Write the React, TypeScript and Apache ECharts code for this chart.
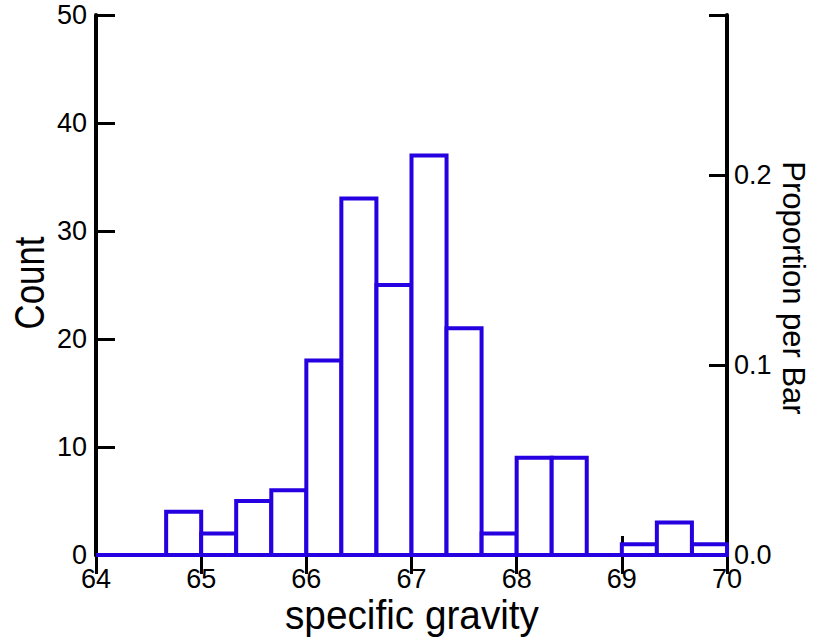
import React, { useEffect, useRef } from "react";
import * as echarts from "echarts";

const binLower = [
  64, 64.333, 64.667, 65, 65.333, 65.667, 66, 66.333, 66.667, 67, 67.333,
  67.667, 68, 68.333, 68.667, 69, 69.333, 69.667,
];
const binWidth = 1 / 3;
const counts = [0, 0, 4, 2, 5, 6, 18, 33, 25, 37, 21, 2, 9, 9, 0, 1, 3, 1];
const xTicks = [64, 65, 66, 67, 68, 69, 70];
const countMax = 50;
const xTitle = "specific gravity";
const yTitle = "Count";
const y2Title = "Proportion per Bar";

const FONT = "Liberation Sans, Arial, sans-serif";
const BLUE = "#2600E0";

export default function App() {
  const ref = useRef<HTMLDivElement>(null);
  useEffect(() => {
    if (!ref.current) return;
    const chart = echarts.init(ref.current, null, { renderer: "svg" });
    const total = counts.reduce((a, b) => a + b, 0);
    const data = binLower.map((lo, i) => [lo, lo + binWidth, counts[i]]);
    const axisLineStyle = { color: "#000", width: 4 };
    const tickStyle = { color: "#000", width: 3 };
    chart.setOption({
      animation: false,
      backgroundColor: "#fff",
      grid: { left: 96, right: 96, top: 15, bottom: 86, containLabel: false },
      xAxis: [
        {
          type: "value",
          min: xTicks[0],
          max: xTicks[xTicks.length - 1],
          interval: 1,
          position: "bottom",
          axisLine: { show: true, lineStyle: axisLineStyle },
          axisTick: { show: true, inside: true, length: 19, lineStyle: tickStyle },
          axisLabel: { color: "#000", fontSize: 27, fontFamily: FONT, margin: 10 },
          splitLine: { show: false },
        },
        {
          type: "value",
          min: xTicks[0],
          max: xTicks[xTicks.length - 1],
          interval: 1,
          position: "top",
          axisLine: { show: true, lineStyle: axisLineStyle },
          axisTick: { show: true, inside: true, length: 19, lineStyle: tickStyle },
          axisLabel: { show: false },
          splitLine: { show: false },
        },
      ],
      yAxis: [
        {
          type: "value",
          min: 0,
          max: countMax,
          interval: 10,
          position: "left",
          axisLine: { show: true, lineStyle: axisLineStyle },
          axisTick: { show: true, inside: true, length: 19, lineStyle: tickStyle },
          axisLabel: { color: "#000", fontSize: 27, fontFamily: FONT, margin: 9 },
          splitLine: { show: false },
        },
        {
          type: "value",
          min: 0,
          max: countMax / total,
          interval: 0.1,
          position: "right",
          axisLine: { show: true, lineStyle: axisLineStyle },
          axisTick: { show: true, inside: true, length: 18, lineStyle: tickStyle },
          axisLabel: {
            color: "#000",
            fontSize: 27,
            fontFamily: FONT,
            margin: 7,
            formatter: (v: number) =>
              Math.abs(v * 10 - Math.round(v * 10)) < 1e-6 ? v.toFixed(1) : "",
          },
          splitLine: { show: false },
        },
      ],
      series: [
        {
          type: "custom",
          xAxisIndex: 0,
          yAxisIndex: 0,
          clip: false,
          data,
          encode: { x: [0, 1], y: 2 },
          renderItem: (params: any, api: any) => {
            const p0 = api.coord([api.value(0), api.value(2)]);
            const p1 = api.coord([api.value(1), 0]);
            return {
              type: "rect",
              shape: { x: p0[0], y: p0[1], width: p1[0] - p0[0], height: p1[1] - p0[1] },
              style: { fill: "#fff", stroke: BLUE, lineWidth: 4 },
            };
          },
        },
      ],
      graphic: [
        {
          type: "text",
          x: 412,
          y: 615,
          scaleX: 0.945,
          style: {
            text: xTitle,
            fontSize: 41,
            fontFamily: FONT,
            fill: "#000",
            textAlign: "center",
            textVerticalAlign: "middle",
          },
        },
        {
          type: "text",
          x: 29,
          y: 283,
          rotation: Math.PI / 2,
          scaleX: 0.83,
          style: {
            text: yTitle,
            fontSize: 42,
            fontFamily: FONT,
            fill: "#000",
            textAlign: "center",
            textVerticalAlign: "middle",
          },
        },
        {
          type: "text",
          x: 793,
          y: 288,
          rotation: -Math.PI / 2,
          style: {
            text: y2Title,
            fontSize: 31,
            fontFamily: FONT,
            fill: "#000",
            textAlign: "center",
            textVerticalAlign: "middle",
          },
        },
      ],
    });
    return () => chart.dispose();
  }, []);
  return (
    <div
      ref={ref}
      style={{ position: "fixed", left: 0, top: 0, width: 823, height: 641 }}
    />
  );
}
